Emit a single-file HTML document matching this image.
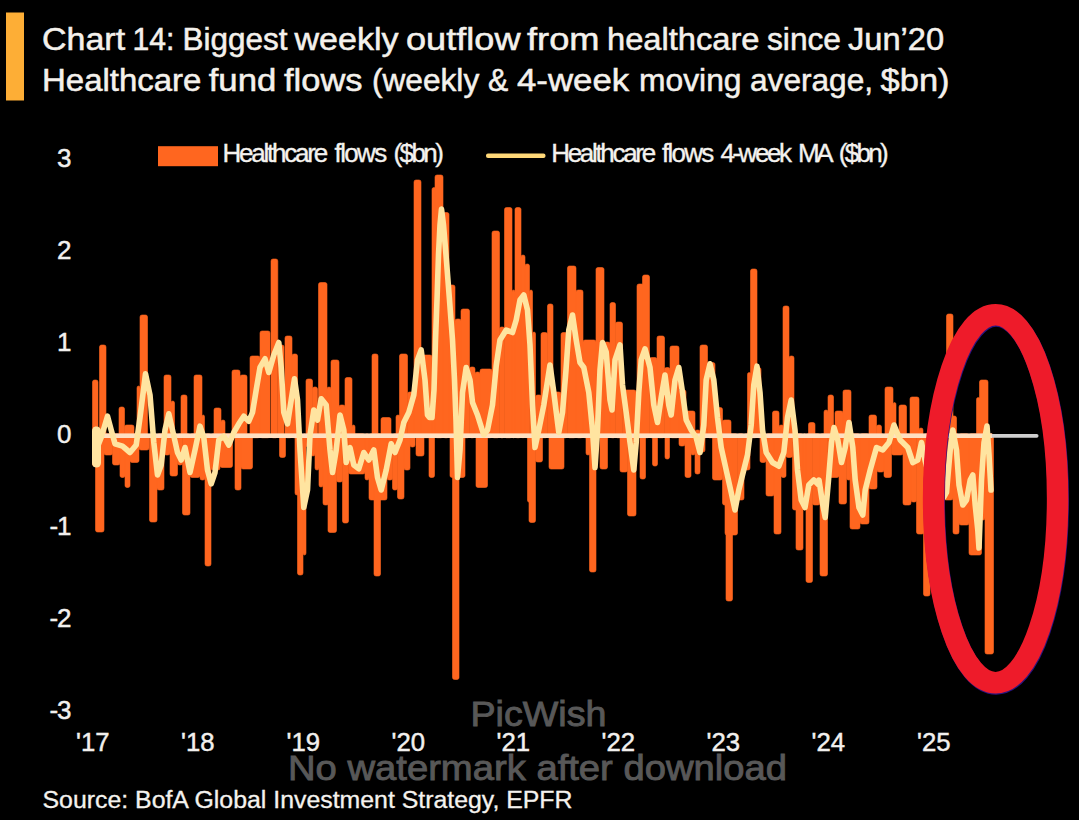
<!DOCTYPE html>
<html><head><meta charset="utf-8"><title>Chart 14</title>
<style>
html,body{margin:0;padding:0;background:#000;}
body{width:1079px;height:820px;overflow:hidden;font-family:"Liberation Sans",sans-serif;}
svg{display:block;}
text{font-family:"Liberation Sans",sans-serif;}
</style></head><body>
<svg width="1079" height="820" viewBox="0 0 1079 820">
<rect width="1079" height="820" fill="#000"/>
<rect x="6" y="12.5" width="18" height="88" fill="#fdae36"/>
<g fill="#f4f1ec" stroke="#f4f1ec" stroke-width="0.5" font-size="30.8">
<text x="42.0" y="50.2" textLength="83.1" lengthAdjust="spacingAndGlyphs">Chart</text>
<text x="132.5" y="50.2" textLength="41.9" lengthAdjust="spacingAndGlyphs">14:</text>
<text x="182.6" y="50.2" textLength="104.9" lengthAdjust="spacingAndGlyphs">Biggest</text>
<text x="294.5" y="50.2" textLength="104.0" lengthAdjust="spacingAndGlyphs">weekly</text>
<text x="406.0" y="50.2" textLength="114.5" lengthAdjust="spacingAndGlyphs">outflow</text>
<text x="527.0" y="50.2" textLength="72.5" lengthAdjust="spacingAndGlyphs">from</text>
<text x="607.0" y="50.2" textLength="152.5" lengthAdjust="spacingAndGlyphs">healthcare</text>
<text x="767.0" y="50.2" textLength="74.0" lengthAdjust="spacingAndGlyphs">since</text>
<text x="848.0" y="50.2" textLength="96.1" lengthAdjust="spacingAndGlyphs">Jun’20</text>
<text x="42.0" y="90.7" textLength="159.4" lengthAdjust="spacingAndGlyphs">Healthcare</text>
<text x="208.7" y="90.7" textLength="67.6" lengthAdjust="spacingAndGlyphs">fund</text>
<text x="284.0" y="90.7" textLength="78.5" lengthAdjust="spacingAndGlyphs">flows</text>
<text x="372.0" y="90.7" textLength="107.2" lengthAdjust="spacingAndGlyphs">(weekly</text>
<text x="488.0" y="90.7" textLength="20.2" lengthAdjust="spacingAndGlyphs">&amp;</text>
<text x="517.0" y="90.7" textLength="112.2" lengthAdjust="spacingAndGlyphs">4-week</text>
<text x="639.0" y="90.7" textLength="102.5" lengthAdjust="spacingAndGlyphs">moving</text>
<text x="750.0" y="90.7" textLength="123.0" lengthAdjust="spacingAndGlyphs">average,</text>
<text x="880.6" y="90.7" textLength="68.9" lengthAdjust="spacingAndGlyphs">$bn)</text>
</g>
<rect x="158" y="146.2" width="60" height="20" fill="#ff661f"/>
<g fill="#f4f2ee" stroke="#f4f2ee" stroke-width="0.35" font-size="26">
<text x="222.4" y="162.3" textLength="105.9" lengthAdjust="spacing">Healthcare</text>
<text x="334.6" y="162.3" textLength="52.6" lengthAdjust="spacing">flows</text>
<text x="393.5" y="162.3" textLength="50.4" lengthAdjust="spacing">($bn)</text>
<text x="551.2" y="162.3" textLength="104.9" lengthAdjust="spacing">Healthcare</text>
<text x="662.0" y="162.3" textLength="52.2" lengthAdjust="spacing">flows</text>
<text x="720.4" y="162.3" textLength="71.5" lengthAdjust="spacing">4-week</text>
<text x="798.1" y="162.3" textLength="35.5" lengthAdjust="spacing">MA</text>
<text x="838.8" y="162.3" textLength="49.9" lengthAdjust="spacing">($bn)</text>
</g>
<rect x="486" y="153.5" width="59.5" height="4.6" rx="2" fill="#ffd878"/>
<g fill="#f2f0ee" stroke="#f2f0ee" stroke-width="0.45" font-size="26">
<text x="70.5" y="166.5" text-anchor="end" letter-spacing="-1">3</text>
<text x="70.5" y="258.5" text-anchor="end" letter-spacing="-1">2</text>
<text x="70.5" y="350.6" text-anchor="end" letter-spacing="-1">1</text>
<text x="70.5" y="442.6" text-anchor="end" letter-spacing="-1">0</text>
<text x="70.5" y="534.7" text-anchor="end" letter-spacing="-1">-1</text>
<text x="70.5" y="626.7" text-anchor="end" letter-spacing="-1">-2</text>
<text x="70.5" y="718.8" text-anchor="end" letter-spacing="-1">-3</text>
<text x="76" y="751.3" textLength="33.5" lengthAdjust="spacingAndGlyphs">'17</text>
<text x="181" y="751.3" textLength="33.5" lengthAdjust="spacingAndGlyphs">'18</text>
<text x="286.5" y="751.3" textLength="33.5" lengthAdjust="spacingAndGlyphs">'19</text>
<text x="391.5" y="751.3" textLength="33.5" lengthAdjust="spacingAndGlyphs">'20</text>
<text x="496.5" y="751.3" textLength="33.5" lengthAdjust="spacingAndGlyphs">'21</text>
<text x="601.5" y="751.3" textLength="33.5" lengthAdjust="spacingAndGlyphs">'22</text>
<text x="706.5" y="751.3" textLength="33.5" lengthAdjust="spacingAndGlyphs">'23</text>
<text x="811.5" y="751.3" textLength="33.5" lengthAdjust="spacingAndGlyphs">'24</text>
<text x="917" y="751.3" textLength="33.5" lengthAdjust="spacingAndGlyphs">'25</text>
</g>
<g fill="#ff661f" stroke="#ff661f" stroke-width="0.6">
<rect x="92.5" y="380" width="5.5" height="57.8" rx="2"/>
<rect x="99.5" y="345" width="6.5" height="92.8" rx="2"/>
<rect x="119" y="407" width="5.5" height="30.8" rx="2"/>
<rect x="124.5" y="425" width="9.5" height="12.8" rx="2"/>
<rect x="137" y="386" width="3" height="51.8" rx="2"/>
<rect x="140" y="315" width="7.5" height="122.8" rx="2"/>
<rect x="164" y="375" width="7" height="62.8" rx="2"/>
<rect x="171" y="401" width="3.5" height="36.8" rx="2"/>
<rect x="181" y="395" width="6" height="42.8" rx="2"/>
<rect x="194" y="375" width="8" height="62.8" rx="2"/>
<rect x="202" y="415" width="2.5" height="22.8" rx="2"/>
<rect x="214" y="408" width="7" height="29.8" rx="2"/>
<rect x="221" y="420" width="4" height="17.8" rx="2"/>
<rect x="232" y="370" width="8" height="67.8" rx="2"/>
<rect x="240" y="375" width="7" height="62.8" rx="2"/>
<rect x="250" y="356" width="10" height="81.8" rx="2"/>
<rect x="260" y="331" width="10" height="106.8" rx="2"/>
<rect x="271" y="259" width="6.8" height="178.8" rx="2"/>
<rect x="278" y="345" width="6" height="92.8" rx="2"/>
<rect x="285" y="336" width="7" height="101.8" rx="2"/>
<rect x="292" y="354" width="5.5" height="83.8" rx="2"/>
<rect x="306" y="379" width="6.5" height="58.8" rx="2"/>
<rect x="312.5" y="387" width="5" height="50.8" rx="2"/>
<rect x="318.5" y="282.5" width="8.5" height="155.3" rx="2"/>
<rect x="327" y="387" width="4" height="50.8" rx="2"/>
<rect x="331" y="360" width="8" height="77.8" rx="2"/>
<rect x="339" y="405" width="6" height="32.8" rx="2"/>
<rect x="345" y="377.5" width="7" height="60.3" rx="2"/>
<rect x="352" y="425" width="3" height="12.8" rx="2"/>
<rect x="372" y="354" width="6" height="83.8" rx="2"/>
<rect x="381" y="417.5" width="10" height="20.3" rx="2"/>
<rect x="396" y="415" width="4" height="22.8" rx="2"/>
<rect x="399.5" y="354" width="8" height="83.8" rx="2"/>
<rect x="407.5" y="392" width="6.5" height="45.8" rx="2"/>
<rect x="414" y="180" width="7" height="257.8" rx="2"/>
<rect x="421" y="355" width="11" height="82.8" rx="2"/>
<rect x="432" y="187.5" width="4" height="250.3" rx="2"/>
<rect x="435" y="175" width="8" height="262.8" rx="2"/>
<rect x="443" y="212.5" width="6" height="225.3" rx="2"/>
<rect x="449" y="285" width="6" height="152.8" rx="2"/>
<rect x="455" y="319" width="6" height="118.8" rx="2"/>
<rect x="461" y="309" width="8.5" height="128.8" rx="2"/>
<rect x="469.5" y="367" width="5.5" height="70.8" rx="2"/>
<rect x="475" y="372" width="5" height="65.8" rx="2"/>
<rect x="480" y="369" width="12" height="68.8" rx="2"/>
<rect x="492" y="231" width="7.5" height="206.8" rx="2"/>
<rect x="499.5" y="327" width="5" height="110.8" rx="2"/>
<rect x="504.5" y="207.5" width="7.5" height="230.3" rx="2"/>
<rect x="512" y="290" width="3" height="147.8" rx="2"/>
<rect x="515" y="207.5" width="6" height="230.3" rx="2"/>
<rect x="521" y="255" width="4" height="182.8" rx="2"/>
<rect x="525" y="264" width="4.5" height="173.8" rx="2"/>
<rect x="529.5" y="290" width="3" height="147.8" rx="2"/>
<rect x="532.5" y="332" width="3" height="105.8" rx="2"/>
<rect x="535.5" y="395" width="6" height="42.8" rx="2"/>
<rect x="541" y="332.5" width="6.5" height="105.3" rx="2"/>
<rect x="547.5" y="304" width="5.5" height="133.8" rx="2"/>
<rect x="553" y="392" width="8" height="45.8" rx="2"/>
<rect x="561" y="332.5" width="6.5" height="105.3" rx="2"/>
<rect x="567.5" y="266" width="8.5" height="171.8" rx="2"/>
<rect x="576" y="290" width="7" height="147.8" rx="2"/>
<rect x="583" y="340" width="13" height="97.8" rx="2"/>
<rect x="596" y="267.5" width="8" height="170.3" rx="2"/>
<rect x="604" y="342" width="6" height="95.8" rx="2"/>
<rect x="610" y="302.5" width="5.5" height="135.3" rx="2"/>
<rect x="615.5" y="322" width="7" height="115.8" rx="2"/>
<rect x="622.5" y="390" width="13.5" height="47.8" rx="2"/>
<rect x="637" y="284" width="6.5" height="153.8" rx="2"/>
<rect x="642.5" y="275" width="7" height="162.8" rx="2"/>
<rect x="649.5" y="357.5" width="7.5" height="80.3" rx="2"/>
<rect x="657" y="336" width="7.5" height="101.8" rx="2"/>
<rect x="664.5" y="367.5" width="5.5" height="70.3" rx="2"/>
<rect x="670" y="346" width="9" height="91.8" rx="2"/>
<rect x="679" y="390" width="7" height="47.8" rx="2"/>
<rect x="686" y="411" width="9" height="26.8" rx="2"/>
<rect x="695" y="430" width="5" height="7.8" rx="2"/>
<rect x="700" y="345" width="7.5" height="92.8" rx="2"/>
<rect x="707.5" y="362.5" width="7.5" height="75.3" rx="2"/>
<rect x="715" y="407.5" width="7.5" height="30.3" rx="2"/>
<rect x="722.5" y="420" width="8.5" height="17.8" rx="2"/>
<rect x="747.5" y="372.5" width="3.5" height="65.3" rx="2"/>
<rect x="750.5" y="269" width="6.5" height="168.8" rx="2"/>
<rect x="757" y="367.5" width="4" height="70.3" rx="2"/>
<rect x="772.5" y="411" width="6.5" height="26.8" rx="2"/>
<rect x="779" y="425" width="4.5" height="12.8" rx="2"/>
<rect x="783" y="306" width="6" height="131.8" rx="2"/>
<rect x="789" y="356" width="5" height="81.8" rx="2"/>
<rect x="808.5" y="422.5" width="6.5" height="15.3" rx="2"/>
<rect x="824" y="410" width="4" height="27.8" rx="2"/>
<rect x="828" y="395" width="5.5" height="42.8" rx="2"/>
<rect x="835" y="411" width="8" height="26.8" rx="2"/>
<rect x="843" y="390" width="8" height="47.8" rx="2"/>
<rect x="869" y="415" width="7.5" height="22.8" rx="2"/>
<rect x="876.5" y="425" width="5" height="12.8" rx="2"/>
<rect x="885" y="387" width="8" height="50.8" rx="2"/>
<rect x="893" y="402.5" width="3" height="35.3" rx="2"/>
<rect x="899" y="405" width="7.5" height="32.8" rx="2"/>
<rect x="910" y="397" width="9" height="40.8" rx="2"/>
<rect x="919" y="428" width="4" height="9.8" rx="2"/>
<rect x="946.5" y="314" width="6.5" height="123.8" rx="2"/>
<rect x="951.5" y="416" width="5" height="21.8" rx="2"/>
<rect x="976.5" y="397.5" width="3.5" height="40.3" rx="2"/>
<rect x="979.5" y="380" width="8.5" height="57.8" rx="2"/>
<rect x="92.5" y="433.8" width="3" height="32.2" rx="2"/>
<rect x="95.5" y="433.8" width="8.5" height="98.2" rx="2"/>
<rect x="104" y="433.8" width="8.5" height="21.2" rx="2"/>
<rect x="112.5" y="433.8" width="7.5" height="31.2" rx="2"/>
<rect x="120" y="433.8" width="5" height="43.7" rx="2"/>
<rect x="125" y="433.8" width="5" height="53.7" rx="2"/>
<rect x="130" y="433.8" width="9" height="28.7" rx="2"/>
<rect x="139" y="433.8" width="10" height="16.2" rx="2"/>
<rect x="149.5" y="433.8" width="7.5" height="88.2" rx="2"/>
<rect x="157" y="433.8" width="7" height="56.2" rx="2"/>
<rect x="164" y="433.8" width="6" height="21.2" rx="2"/>
<rect x="170" y="433.8" width="7.5" height="42.2" rx="2"/>
<rect x="177.5" y="433.8" width="5" height="31.2" rx="2"/>
<rect x="182.5" y="433.8" width="7.5" height="81.2" rx="2"/>
<rect x="190" y="433.8" width="10" height="43.7" rx="2"/>
<rect x="200" y="433.8" width="5" height="46.2" rx="2"/>
<rect x="205" y="433.8" width="6" height="132.2" rx="2"/>
<rect x="211" y="433.8" width="9" height="36.2" rx="2"/>
<rect x="220" y="433.8" width="12.5" height="33.7" rx="2"/>
<rect x="235" y="433.8" width="6" height="56.2" rx="2"/>
<rect x="241" y="433.8" width="11.5" height="35.2" rx="2"/>
<rect x="279.5" y="433.8" width="6" height="23.7" rx="2"/>
<rect x="295" y="433.8" width="4" height="61.2" rx="2"/>
<rect x="297.5" y="433.8" width="5.5" height="141.2" rx="2"/>
<rect x="303" y="433.8" width="3" height="121.2" rx="2"/>
<rect x="306" y="433.8" width="5" height="13.2" rx="2"/>
<rect x="311" y="433.8" width="4" height="22.2" rx="2"/>
<rect x="315" y="433.8" width="4" height="36.2" rx="2"/>
<rect x="319" y="433.8" width="4" height="53.2" rx="2"/>
<rect x="323" y="433.8" width="5.5" height="71.2" rx="2"/>
<rect x="328" y="433.8" width="8.5" height="98.7" rx="2"/>
<rect x="336.5" y="433.8" width="6" height="48.2" rx="2"/>
<rect x="342.5" y="433.8" width="6" height="89.2" rx="2"/>
<rect x="348.5" y="433.8" width="16.5" height="40.2" rx="2"/>
<rect x="365" y="433.8" width="4" height="46.2" rx="2"/>
<rect x="369" y="433.8" width="18" height="66.2" rx="2"/>
<rect x="374" y="433.8" width="6.5" height="142.2" rx="2"/>
<rect x="387" y="433.8" width="5.5" height="46.2" rx="2"/>
<rect x="392.5" y="433.8" width="5" height="56.2" rx="2"/>
<rect x="397.5" y="433.8" width="6.5" height="65.2" rx="2"/>
<rect x="404" y="433.8" width="6" height="36.2" rx="2"/>
<rect x="410" y="433.8" width="5" height="13.2" rx="2"/>
<rect x="416" y="433.8" width="8" height="22.2" rx="2"/>
<rect x="429" y="433.8" width="5.5" height="43.7" rx="2"/>
<rect x="450" y="433.8" width="15" height="43.7" rx="2"/>
<rect x="452.5" y="433.8" width="6.5" height="245.7" rx="2"/>
<rect x="476" y="433.8" width="11.5" height="53.7" rx="2"/>
<rect x="527.5" y="433.8" width="2.5" height="68.2" rx="2"/>
<rect x="529" y="433.8" width="6.5" height="88.7" rx="2"/>
<rect x="535.5" y="433.8" width="7" height="28.2" rx="2"/>
<rect x="549" y="433.8" width="15" height="35.2" rx="2"/>
<rect x="586" y="433.8" width="4" height="21.2" rx="2"/>
<rect x="589.5" y="433.8" width="6.5" height="138.2" rx="2"/>
<rect x="600" y="433.8" width="7.5" height="35.2" rx="2"/>
<rect x="620" y="433.8" width="7.5" height="38.2" rx="2"/>
<rect x="627.5" y="433.8" width="8.5" height="82.2" rx="2"/>
<rect x="640" y="433.8" width="5.5" height="45.2" rx="2"/>
<rect x="652.5" y="433.8" width="5" height="32.2" rx="2"/>
<rect x="665" y="433.8" width="4.5" height="25.2" rx="2"/>
<rect x="679" y="433.8" width="6" height="12.2" rx="2"/>
<rect x="685" y="433.8" width="6" height="43.7" rx="2"/>
<rect x="691" y="433.8" width="4" height="21.2" rx="2"/>
<rect x="695" y="433.8" width="5" height="40.2" rx="2"/>
<rect x="700" y="433.8" width="5" height="18.2" rx="2"/>
<rect x="712.5" y="433.8" width="10" height="46.2" rx="2"/>
<rect x="722.5" y="433.8" width="6" height="71.2" rx="2"/>
<rect x="725" y="433.8" width="12.5" height="101.2" rx="2"/>
<rect x="726" y="433.8" width="6.5" height="167.2" rx="2"/>
<rect x="737.5" y="433.8" width="6.5" height="66.2" rx="2"/>
<rect x="744" y="433.8" width="6" height="36.2" rx="2"/>
<rect x="760" y="433.8" width="6" height="28.7" rx="2"/>
<rect x="766" y="433.8" width="8" height="62.2" rx="2"/>
<rect x="774" y="433.8" width="7" height="100.2" rx="2"/>
<rect x="781" y="433.8" width="5" height="43.7" rx="2"/>
<rect x="786" y="433.8" width="6.5" height="23.7" rx="2"/>
<rect x="792.5" y="433.8" width="5.5" height="76.2" rx="2"/>
<rect x="796" y="433.8" width="7" height="116.2" rx="2"/>
<rect x="803" y="433.8" width="3" height="76.2" rx="2"/>
<rect x="806" y="433.8" width="6.5" height="148.7" rx="2"/>
<rect x="812.5" y="433.8" width="7.5" height="71.2" rx="2"/>
<rect x="820" y="433.8" width="7.5" height="142.2" rx="2"/>
<rect x="827.5" y="433.8" width="11.5" height="43.7" rx="2"/>
<rect x="839" y="433.8" width="7.5" height="70.2" rx="2"/>
<rect x="846.5" y="433.8" width="4.5" height="46.2" rx="2"/>
<rect x="850" y="433.8" width="10" height="95.2" rx="2"/>
<rect x="860" y="433.8" width="9" height="90.2" rx="2"/>
<rect x="869" y="433.8" width="8" height="55.2" rx="2"/>
<rect x="877" y="433.8" width="7" height="38.2" rx="2"/>
<rect x="884" y="433.8" width="7.5" height="43.7" rx="2"/>
<rect x="891.5" y="433.8" width="11.5" height="21.2" rx="2"/>
<rect x="903" y="433.8" width="8" height="71.2" rx="2"/>
<rect x="911" y="433.8" width="5.5" height="68.2" rx="2"/>
<rect x="916.5" y="433.8" width="7.5" height="100.2" rx="2"/>
<rect x="923.5" y="433.8" width="6.5" height="162.2" rx="2"/>
<rect x="930" y="433.8" width="14" height="66.2" rx="2"/>
<rect x="944" y="433.8" width="9" height="66.2" rx="2"/>
<rect x="953" y="433.8" width="6" height="100.2" rx="2"/>
<rect x="959" y="433.8" width="10" height="91.2" rx="2"/>
<rect x="969" y="433.8" width="12.5" height="121.2" rx="2"/>
<rect x="981.5" y="433.8" width="3.5" height="86.2" rx="2"/>
<rect x="985" y="433.8" width="8.5" height="220.2" rx="2"/>
</g>
<rect x="985" y="434" width="53.5" height="3.7" rx="1.8" fill="#cfcfcf"/>
<rect x="93" y="433.4" width="899" height="4.6" fill="#ffe0c2"/>
<polyline points="95.5,429.5 95.5,464 96.2,450 101.2,437.5 107.5,416.2 111.2,430 115,443.8 122.5,446.2 130,452.5 136.2,445 140,417.5 145.5,373.8 150,395 153.8,442.5 157.5,475 161.2,465 165,430 168.8,413.8 172.5,430 177.5,452.5 181.2,460 185,447.5 190,472.5 195,450 200,426.2 203.8,437.5 207.5,470 211.2,483.8 215,472.5 218.8,440 223.8,436.2 228.8,445 233.8,432.5 238.8,423.8 243.8,416.2 248.8,421.2 252.5,412.5 256.2,390 260,367.5 265,358.8 268.8,372.5 273.8,355 278.8,342.5 281.2,367.5 283.8,412.5 287.5,423.8 291.2,400 294.5,378.8 297.5,400 300,450 303.8,507.5 307.5,490 310,435 313.8,410 317.5,420 321.2,398.8 326.2,405 330,450 332.5,472.5 336.2,450 340,415 343.8,430 346.2,462.5 349.8,450 350,447.5 353.8,465 358.8,468.8 363.8,452.5 368.8,460 373.8,450 377.5,477.5 381.2,490 386.2,470 391.2,443.8 395,452.5 400,440 403.8,422.5 408.8,412.5 413.8,395 417.5,360 421.2,350 425,380 427.5,415 429.5,417.5 432,417.5 434,390 435.5,340 437,300 438.5,255 440,225 441.5,209 443.5,225 446,255 449.5,300 452.5,340 454.5,380 456,420 457.5,477.5 460,450 462.5,392.5 466.2,367.5 470,380 472.5,402.5 477.5,415 483.8,435 487.5,430 492.5,405 496.2,366 500,340 506.2,330 512.5,332.5 516.2,320 520,300 523.8,295 527.5,310 530,345 532.5,405 535,447.5 538.8,430 543.8,405 550,365 553.8,392.5 558.8,432.5 562.5,412.5 566,370 568.8,330 572.5,315 576.2,340 580,362.5 583.8,367.5 588.8,392.5 592.5,430 595,467.5 597.5,430 600,370 602.5,342.5 606.2,352 610,400 612,410 615,360 620,345 622.5,385 626.2,412.5 630,442.5 633.8,470 636.2,442.5 638.8,392.5 641.2,360 645,348.8 650,367.5 653.8,405 657.5,422.5 661.2,397.5 665,375 668.8,405 671.2,415 675,380 678.8,367.5 682.5,392.5 686.2,420 691.2,430 696.2,437.5 700,452.5 703.8,425 706.2,380 710,363.8 713.8,380 717.5,417.5 721.2,447.5 726.2,470 731.2,492.5 735,510 738.8,490 742.5,475 747.5,455 751.2,425 753.8,385 757,366.2 760,392.5 762.5,430 766.2,452.5 772.5,462.5 778.8,466.2 783.8,452.5 787.5,417.5 791.2,400 795,430 797.5,470 801.2,500 805,507.5 808.8,485 813.8,480 818.8,485 819,480 822.8,505 825.2,517.5 828.5,480 831.5,442.5 834,427.5 837.8,440 841.5,462.5 845.2,447.5 849,422.5 852.8,447.5 855.2,480 859,507.5 862.8,515 865.2,490 870.2,470 876.5,447.5 882.8,450 889,442.5 894,425 900.2,440 907.8,447.5 912.8,462.5 917.8,460 921.5,442.5 925,460 930,480 935,492 940,500 944,497 946.5,492.5 950.2,450 952.8,430 956.5,450 959,485 962.8,505 966.5,500 970.2,480 972.8,475 975.2,505 977.8,530 979,548 981.5,480 984,442.5 987,426 989,455 991,490" fill="none" stroke="#ffe4a0" stroke-width="5.6" stroke-linejoin="round" stroke-linecap="round"/>
<line x1="96.5" y1="431" x2="96.5" y2="463" stroke="#ffe4a0" stroke-width="9" stroke-linecap="round"/>
<ellipse cx="996.2" cy="499.9" rx="62" ry="184" fill="none" stroke="#2a1580" stroke-width="21.5"/>
<ellipse cx="995.6" cy="498.7" rx="62" ry="184" fill="none" stroke="#ee1b2a" stroke-width="21.5"/>
<g fill="#585858" stroke="#585858" stroke-width="0.9" font-size="35.5">
<text x="470.5" y="726.2" textLength="136" lengthAdjust="spacingAndGlyphs">PicWish</text>
<text x="288" y="779.8" textLength="499" lengthAdjust="spacingAndGlyphs">No watermark after download</text>
</g>
<text x="42.5" y="808.2" font-size="23" fill="#f4f2ee" stroke="#f4f2ee" stroke-width="0.3" textLength="530" lengthAdjust="spacingAndGlyphs">Source: BofA Global Investment Strategy, EPFR</text>
</svg>
</body></html>
